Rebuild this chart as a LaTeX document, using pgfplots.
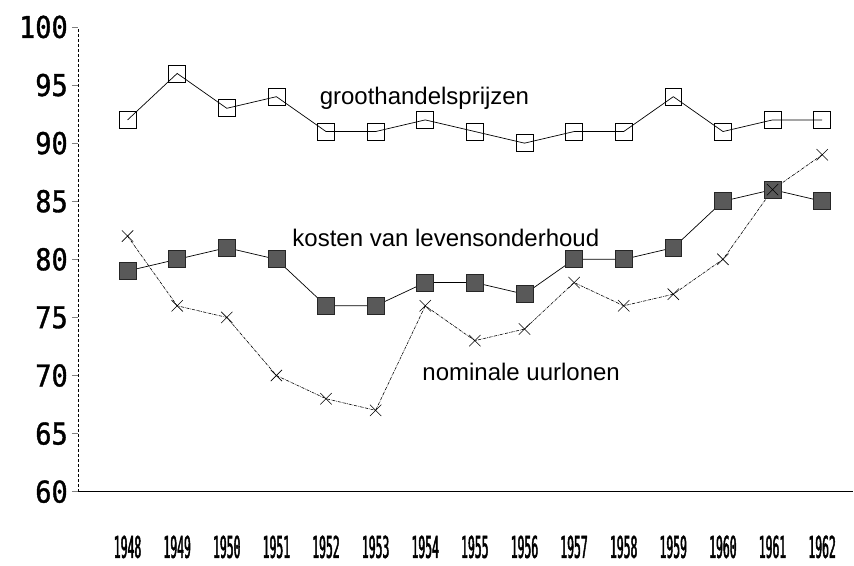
\documentclass[border=0pt]{standalone}
\usepackage{fontspec}
\setmainfont{Liberation Sans}
\newfontfamily\tickfont[FakeStretch=0.9, FakeBold=1.2]{DejaVu Sans Mono}
\newfontfamily\yearfont[FakeStretch=0.38, FakeBold=1.5]{DejaVu Sans Mono}
\usepackage{pgfplots}
\pgfplotsset{compat=1.18}

\begin{document}
\begin{tikzpicture}
\begin{axis}[
    name=ax,
    scale only axis,
    width=776pt, height=465pt,
    xmin=1947, xmax=1962.63,
    ymin=60, ymax=100,
    axis x line*=bottom,
    axis y line*=left,
    x axis line style={line width=1.1pt},
    y axis line style={line width=0.6pt, densely dashed},
    xtick={1948,...,1962},
    xticklabels={1948,1949,1950,1951,1952,1953,1954,1955,1956,1957,1958,1959,1960,1961,1962},
    xtick style={draw=none},
    xticklabel style={font=\yearfont\fontsize{30}{30}\selectfont, anchor=north,
        inner sep=0pt, text height=22pt, text depth=0pt, yshift=-38pt},
    ytick={60,65,...,100},
    yticklabels={60,65,70,75,80,85,90,95,100},
    tick align=outside,
    major tick length=6pt,
    ytick style={line width=0.6pt},
    yticklabel style={font=\tickfont\fontsize{30}{30}\selectfont, anchor=east, inner sep=0pt, xshift=-4pt},
    clip=false,
]
% groothandelsprijzen
\addplot[black, line width=0.7pt, mark=square, mark size=8.5pt,
    mark options={solid, fill=white, line width=0.7pt}] coordinates {
    (1948,92) (1949,96) (1950,93) (1951,94) (1952,91) (1953,91) (1954,92)
    (1955,91) (1956,90) (1957,91) (1958,91) (1959,94) (1960,91) (1961,92) (1962,92)};
% kosten van levensonderhoud
\addplot[black, line width=0.7pt, mark=square*, mark size=8.5pt,
    mark options={solid, fill=black!65, draw=black!85, line width=0.7pt}] coordinates {
    (1948,79) (1949,80) (1950,81) (1951,80) (1952,76) (1953,76) (1954,78)
    (1955,78) (1956,77) (1957,80) (1958,80) (1959,81) (1960,85) (1961,86) (1962,85)};
% nominale uurlonen
\addplot[black, line width=0.6pt, densely dash dot, mark=x, mark size=8pt,
    mark options={solid, line width=0.6pt}] coordinates {
    (1948,82) (1949,76) (1950,75) (1951,70) (1952,68) (1953,67) (1954,76)
    (1955,73) (1956,74) (1957,78) (1958,76) (1959,77) (1960,80) (1961,86) (1962,89)};
\node[anchor=west, inner sep=0pt, font=\fontsize{24}{28}\selectfont] at (axis cs:1951.87,93.9) {groothandelsprijzen};
\node[anchor=west, inner sep=0pt, font=\fontsize{24}{28}\selectfont] at (axis cs:1951.32,81.85) {kosten van levensonderhoud};
\node[anchor=west, inner sep=0pt, font=\fontsize{24}{28}\selectfont] at (axis cs:1953.94,70.32) {nominale uurlonen};
\end{axis}
\path ([shift={(-78pt,-74pt)}]ax.south west) rectangle ([shift={(0pt,27pt)}]ax.north east);
\end{tikzpicture}
\end{document}
